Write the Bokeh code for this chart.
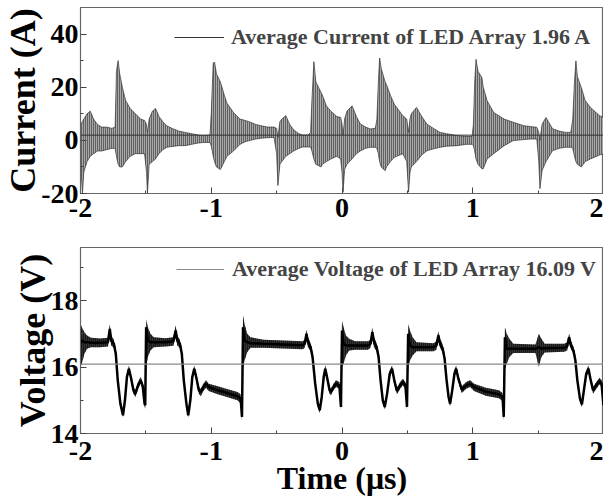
from bokeh.plotting import figure
from bokeh.layouts import column
from bokeh.models import Range1d, FixedTicker, Legend, LegendItem
from bokeh.embed import file_html
from bokeh.resources import INLINE

FONT = "Liberation Serif"

# ---------------- current trace (envelope) ----------------
cur_t = [-2.000, -1.985, -1.975, -1.950, -1.925, -1.900, -1.870, -1.840, -1.800, -1.760,
         -1.735, -1.725, -1.712, -1.700, -1.680, -1.655, -1.620, -1.580, -1.540, -1.510,
         -1.495, -1.488, -1.475, -1.450, -1.426, -1.400, -1.370, -1.340, -1.300, -1.250,
         -1.200, -1.150, -1.100, -1.060, -1.010, -1.000, -0.985, -0.975, -0.960, -0.930,
         -0.900, -0.880, -0.830, -0.780, -0.740, -0.700, -0.660, -0.620, -0.570, -0.520,
         -0.500, -0.490, -0.475, -0.460, -0.430, -0.400, -0.370, -0.330, -0.300, -0.260,
         -0.240, -0.230, -0.215, -0.200, -0.160, -0.150, -0.120, -0.085, -0.040, -0.010,
         0.000, 0.008, 0.020, 0.038, 0.077, 0.110, 0.140, 0.180, 0.216, 0.255,
         0.267, 0.278, 0.288, 0.300, 0.330, 0.340, 0.370, 0.400, 0.465, 0.495,
         0.509, 0.520, 0.530, 0.570, 0.610, 0.650, 0.700, 0.750, 0.800, 0.880,
         0.950, 0.995, 1.005, 1.015, 1.025, 1.040, 1.070, 1.080, 1.110, 1.160,
         1.240, 1.310, 1.390, 1.440, 1.490, 1.505, 1.514, 1.530, 1.560, 1.610,
         1.660, 1.710, 1.750, 1.765, 1.778, 1.789, 1.800, 1.830, 1.860, 1.900,
         1.970, 2.000]
cur_hi = [6, 7, 8, 10, 11, 8, 6, 5, 5, 4.5,
          5, 26, 30, 25, 20, 15, 12, 10, 8, 7.5,
          6, 3, 8, 11, 12, 9, 7, 5.5, 4.5, 3.5,
          3, 2.5, 2, 1.8, 2, 10, 29, 29.5, 25, 22,
          17, 14, 10.5, 8, 7.5, 6.8, 6, 5.5, 5, 5,
          4.5, 1, 7, 8, 9.3, 6, 4, 2.5, 2, 2,
          3, 15, 29.6, 22, 18, 17, 13, 11, 9, 8.6,
          6, 2, 8, 11, 13, 9, 6.2, 5, 4.3, 4.5,
          8, 22, 31, 27, 22, 21, 17, 13.6, 9.3, 8,
          3, 8, 10, 12.4, 9, 6.1, 4.5, 3, 2.5, 1.8,
          1.5, 1.5, 6, 22, 30.5, 26, 23.6, 20, 14.9, 10.5,
          8, 6.8, 5.5, 5.2, 4.9, 3, 0, 6, 8.6, 4.4,
          3.5, 3, 3, 8, 22, 29.9, 24, 19.9, 15, 12.4,
          9.3, 8.6]
cur_lo = [-8, -20, -12, -8, -6, -5, -4, -4, -3.5, -3,
          -3, -6, -9, -10, -10, -8, -6, -5, -5, -5,
          -12, -20, -9, -8, -7, -5, -3.5, -2.6, -2.3, -2,
          -2, -1.5, -1, -0.8, -0.8, -2, -6, -8, -10, -11,
          -8, -6, -4, -1.5, -0.5, 0, 0.5, 0.8, 1, 1.1,
          -5, -17, -9, -8, -6, -5, -4, -3, -2.5, -2.5,
          -2.5, -4, -7, -9, -10, -9, -8, -7, -6, -7,
          -12, -19.5, -11, -9, -7, -5, -4, -3, -2.6, -2.6,
          -3, -5, -8, -10, -11.4, -10, -8, -6.4, -5, -8,
          -19.5, -12, -10, -8, -5.5, -3.9, -3.2, -2.6, -2.2, -2,
          -1.5, -1.5, -2, -4, -7, -9, -10.7, -10.7, -7, -5,
          -2, -0.1, 0.3, 0.5, 0.5, -8, -18.2, -11.4, -8, -3.9,
          -3, -2.6, -2.6, -3, -6, -8, -9, -10, -8, -7,
          -5.5, -5]
avg_current = 1.96

# ---------------- voltage trace (centre and envelope) ----------------
vol_t = [-2.000, -1.990, -1.970, -1.950, -1.920, -1.850, -1.790, -1.776, -1.765, -1.745,
         -1.730, -1.715, -1.695, -1.675, -1.660, -1.645, -1.630, -1.615, -1.595, -1.580,
         -1.560, -1.540, -1.525, -1.510, -1.505, -1.498, -1.485, -1.465, -1.440, -1.350,
         -1.290, -1.272, -1.260, -1.240, -1.225, -1.210, -1.190, -1.176, -1.160, -1.145,
         -1.130, -1.115, -1.095, -1.080, -1.060, -1.040, -1.020, -0.950, -0.880, -0.800,
         -0.775, -0.765, -0.757, -0.745, -0.725, -0.700, -0.600, -0.450, -0.300, -0.285,
         -0.272, -0.260, -0.240, -0.225, -0.205, -0.185, -0.170, -0.155, -0.140, -0.128,
         -0.112, -0.095, -0.085, -0.065, -0.045, -0.020, -0.008, 0.000, 0.012, 0.030,
         0.055, 0.100, 0.200, 0.218, 0.232, 0.245, 0.265, 0.280, 0.295, 0.312,
         0.327, 0.345, 0.365, 0.383, 0.400, 0.420, 0.445, 0.465, 0.485, 0.497,
         0.506, 0.520, 0.540, 0.570, 0.700, 0.722, 0.737, 0.750, 0.770, 0.785,
         0.800, 0.815, 0.827, 0.843, 0.860, 0.873, 0.890, 0.916, 0.950, 0.980,
         1.010, 1.100, 1.200, 1.228, 1.237, 1.246, 1.260, 1.280, 1.310, 1.480,
         1.505, 1.525, 1.550, 1.700, 1.722, 1.737, 1.750, 1.770, 1.785, 1.800,
         1.820, 1.835, 1.850, 1.868, 1.885, 1.900, 1.920, 1.945, 1.970, 1.985,
         2.000]
vol_c = [16.7, 16.8, 16.75, 16.75, 16.73, 16.73, 16.75, 17.15, 16.8, 16.7,
         16.4, 15.6, 14.9, 14.55, 15.0, 15.7, 15.95, 15.7, 15.3, 15.2,
         15.45, 15.6, 15.45, 14.9, 14.85, 17.2, 16.8, 16.75, 16.75, 16.75,
         16.78, 17.1, 16.8, 16.7, 16.4, 15.6, 14.9, 14.55, 15.0, 15.7,
         15.95, 15.7, 15.3, 15.25, 15.4, 15.5, 15.4, 15.3, 15.22, 15.12,
         15.05, 14.5, 17.2, 16.8, 16.75, 16.72, 16.7, 16.68, 16.66, 16.7,
         17.0, 16.75, 16.6, 16.3, 15.5, 14.9, 14.7, 15.1, 15.7, 15.95,
         15.65, 15.3, 15.25, 15.4, 15.5, 15.45, 14.8, 17.1, 16.7, 16.65,
         16.65, 16.65, 16.65, 16.7, 17.05, 16.75, 16.6, 16.3, 15.6, 15.0,
         14.8, 15.2, 15.8, 15.95, 15.6, 15.28, 15.45, 15.55, 15.45, 14.8,
         17.0, 16.65, 16.6, 16.6, 16.6, 16.65, 16.95, 16.7, 16.55, 16.25,
         15.6, 15.1, 14.9, 15.3, 15.8, 15.95, 15.65, 15.32, 15.45, 15.5,
         15.4, 15.26, 15.18, 15.1, 14.5, 16.9, 16.55, 16.55, 16.55, 16.55,
         16.6, 16.55, 16.57, 16.58, 16.62, 16.9, 16.65, 16.5, 16.2, 15.6,
         15.05, 14.88, 15.3, 15.8, 15.95, 15.65, 15.3, 15.45, 15.58, 15.5,
         14.85]
vol_hi = [17.3, 17.2, 17.05, 16.95, 16.88, 16.86, 16.88, 17.28, 16.95, 16.82,
          16.55, 15.7, 15.0, 14.65, 15.1, 15.8, 16.05, 15.8, 15.4, 15.3,
          15.55, 15.7, 15.55, 15.0, 14.95, 17.45, 17.2, 17.0, 16.9, 16.87,
          16.9, 17.25, 16.95, 16.82, 16.55, 15.7, 15.0, 14.65, 15.1, 15.8,
          16.05, 15.8, 15.4, 15.35, 15.5, 15.6, 15.5, 15.42, 15.34, 15.25,
          15.18, 14.6, 17.55, 17.3, 17.0, 16.9, 16.82, 16.8, 16.78, 16.82,
          17.13, 16.9, 16.72, 16.45, 15.6, 15.0, 14.8, 15.2, 15.8, 16.05,
          15.75, 15.4, 15.35, 15.5, 15.6, 15.55, 14.9, 17.4, 17.2, 16.95,
          16.85, 16.78, 16.78, 16.82, 17.2, 16.9, 16.72, 16.45, 15.7, 15.1,
          14.88, 15.3, 15.9, 16.05, 15.7, 15.38, 15.55, 15.65, 15.55, 14.9,
          17.3, 17.1, 16.9, 16.75, 16.72, 16.78, 17.08, 16.85, 16.68, 16.4,
          15.7, 15.2, 14.98, 15.4, 15.9, 16.05, 15.75, 15.42, 15.55, 15.6,
          15.5, 15.38, 15.3, 15.22, 14.6, 17.2, 17.0, 16.85, 16.7, 16.68,
          17.0, 16.85, 16.7, 16.7, 16.75, 17.0, 16.8, 16.62, 16.35, 15.7,
          15.15, 14.96, 15.4, 15.9, 16.05, 15.75, 15.4, 15.55, 15.68, 15.6,
          14.95]
vol_lo = [16.0, 16.1, 16.4, 16.55, 16.6, 16.6, 16.62, 16.9, 16.65, 16.58,
          16.3, 15.5, 14.8, 14.5, 14.9, 15.6, 15.85, 15.6, 15.2, 15.1,
          15.35, 15.5, 15.35, 14.8, 14.75, 16.0, 16.3, 16.5, 16.6, 16.62,
          16.64, 16.9, 16.65, 16.58, 16.3, 15.5, 14.8, 14.48, 14.9, 15.6,
          15.85, 15.6, 15.2, 15.12, 15.28, 15.38, 15.28, 15.18, 15.1, 15.0,
          14.9, 14.4, 16.0, 16.2, 16.45, 16.58, 16.58, 16.56, 16.54, 16.58,
          16.85, 16.6, 16.48, 16.2, 15.4, 14.8, 14.62, 15.0, 15.6, 15.85,
          15.55, 15.2, 15.15, 15.3, 15.4, 15.35, 14.7, 16.0, 16.1, 16.35,
          16.5, 16.52, 16.52, 16.58, 16.9, 16.6, 16.48, 16.2, 15.5, 14.9,
          14.72, 15.1, 15.7, 15.85, 15.5, 15.18, 15.35, 15.45, 15.35, 14.7,
          16.0, 16.2, 16.35, 16.48, 16.48, 16.52, 16.82, 16.58, 16.45, 16.15,
          15.5, 15.0, 14.82, 15.2, 15.7, 15.85, 15.55, 15.22, 15.35, 15.4,
          15.28, 15.14, 15.06, 14.98, 14.4, 15.95, 16.1, 16.3, 16.42, 16.42,
          16.0, 16.3, 16.44, 16.46, 16.5, 16.78, 16.55, 16.4, 16.1, 15.5,
          14.95, 14.8, 15.2, 15.7, 15.85, 15.55, 15.2, 15.35, 15.48, 15.4,
          14.75]
avg_voltage = 16.09

x_ticks = [-2, -1, 0, 1, 2]
x_minor = [-1.5, -0.5, 0.5, 1.5]
cur_ticks = [-20, 0, 20, 40]
cur_minor = [-10, 10, 30]
vol_ticks = [14, 16, 18]
vol_minor = [15, 17, 19]

TICK_PX = "28px"


def style(p, yt, ym):
    p.xaxis.ticker = FixedTicker(ticks=x_ticks, minor_ticks=x_minor)
    p.yaxis.ticker = FixedTicker(ticks=yt, minor_ticks=ym)
    p.xaxis.major_label_overrides = {t: str(t) for t in x_ticks}
    p.yaxis.major_label_overrides = {t: str(t) for t in yt}
    for ax in (p.xaxis, p.yaxis):
        ax.major_tick_in = 6
        ax.major_tick_out = 0
        ax.minor_tick_in = 3
        ax.minor_tick_out = 0
        ax.axis_line_color = "#666666"
        ax.major_tick_line_color = "#444444"
        ax.minor_tick_line_color = "#444444"
        ax.major_label_text_font = FONT
        ax.major_label_text_font_style = "bold"
        ax.major_label_text_font_size = TICK_PX
        ax.major_label_text_color = "black"
        ax.axis_label_text_font = FONT
        ax.axis_label_text_font_style = "bold"
        ax.axis_label_text_color = "black"
    p.yaxis.major_label_standoff = 2
    p.yaxis.axis_label_standoff = -5
    p.grid.visible = False
    p.outline_line_color = "#666666"
    p.outline_line_width = 1.2
    p.background_fill_color = "white"
    p.border_fill_color = "white"


# ---------------- top: current ----------------
p1 = figure(width=603, height=236, x_range=Range1d(-2, 2), y_range=Range1d(-20, 50),
            output_backend="svg", toolbar_location=None,
            min_border_left=73, min_border_right=0, min_border_top=7, min_border_bottom=43)
style(p1, cur_ticks, cur_minor)
p1.xaxis.major_label_standoff = 5
p1.yaxis.axis_label = "Current (A)"
p1.yaxis.axis_label_text_font_size = "36px"

p1.varea(x=cur_t, y1=cur_lo, y2=cur_hi, fill_color="#a8a8a8",
         hatch_pattern="vertical_line", hatch_color="#1a1a1a", hatch_scale=2, hatch_weight=1)
p1.line(cur_t, cur_hi, line_color="#333333", line_width=0.7)
p1.line(cur_t, cur_lo, line_color="#333333", line_width=0.7)
avg1 = p1.line([-2, 2], [avg_current, avg_current], line_color="#333333", line_width=1)

leg1 = Legend(items=[LegendItem(label="Average Current of LED Array 1.96 A", renderers=[avg1])],
              location=(94, 143), glyph_width=50, label_standoff=7,
              label_text_font=FONT, label_text_font_style="bold", label_text_font_size="22px",
              border_line_color=None, background_fill_alpha=0, padding=0, margin=0)
p1.add_layout(leg1)

# ---------------- bottom: voltage ----------------
p2 = figure(width=603, height=262, x_range=Range1d(-2, 2), y_range=Range1d(14, 19.6),
            output_backend="svg", toolbar_location=None,
            min_border_left=73, min_border_right=0, min_border_top=11, min_border_bottom=63)
style(p2, vol_ticks, vol_minor)
p2.xaxis.major_label_standoff = 8
p2.xaxis.axis_label_standoff = -3
p2.yaxis.axis_label = "Voltage (V)"
p2.yaxis.axis_label_text_font_size = "36px"
p2.xaxis.axis_label = "Time (μs)"
p2.xaxis.axis_label_text_font_size = "32px"

p2.varea(x=vol_t, y1=vol_lo, y2=vol_hi, fill_color="#333333",
         hatch_pattern="vertical_line", hatch_color="#000000", hatch_scale=2, hatch_weight=1)
p2.line(vol_t, vol_c, line_color="black", line_width=2.5)
avg2 = p2.line([-2, 2], [avg_voltage, avg_voltage], line_color="#8a8a8a", line_width=1.2)

leg2 = Legend(items=[LegendItem(label="Average Voltage of LED Array 16.09 V", renderers=[avg2])],
              location=(96, 151), glyph_width=48, label_standoff=8,
              label_text_font=FONT, label_text_font_style="bold", label_text_font_size="22px",
              border_line_color=None, background_fill_alpha=0, padding=0, margin=0)
p2.add_layout(leg2)

layout = column(p1, p2)
open("out.html", "w").write(file_html(layout, INLINE))
